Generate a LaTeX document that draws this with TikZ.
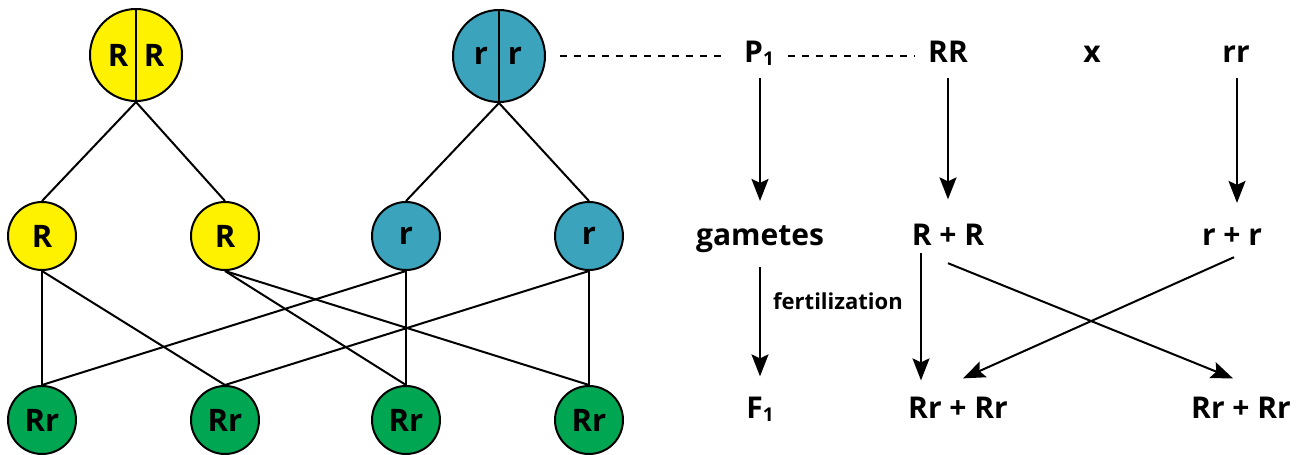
\documentclass[tikz,border=0pt]{standalone}
\usepackage{fontspec}
\setmainfont{Open Sans}
\usetikzlibrary{arrows.meta,calc}
\definecolor{cy}{HTML}{FFF200}
\definecolor{cb}{HTML}{3BA3BC}
\definecolor{cg}{HTML}{00A651}
\begin{document}
\begin{tikzpicture}[x=1pt,y=-1pt,
 gene/.style={circle, draw=black, line width=2pt, minimum size=68pt, inner sep=0pt, font=\fontsize{31}{31}\selectfont\bfseries},
 bigc/.style={circle, draw=black, line width=2pt, minimum size=92pt, inner sep=0pt},
 letter/.style={inner sep=0pt, font=\fontsize{31}{31}\selectfont\bfseries},
 lab/.style={anchor=base, inner sep=0pt, font=\fontsize{30}{30}\selectfont\bfseries},
 small/.style={anchor=base, inner sep=0pt, font=\fontsize{22}{22}\selectfont\bfseries},
 link/.style={line width=2pt},
 dashline/.style={line width=2.2pt, dash pattern=on 7pt off 7pt},
 arr/.style={line width=2pt, -{Stealth[length=22pt,width=17pt,inset=4pt]}}]
\useasboundingbox (0,0) rectangle (1301,455);
% parents
\node[bigc, fill=cy] (RR) at (136,55) {};
\draw[link] (RR.north) -- (RR.south);
\node[letter] (RRa) at (118,55) {R};
\node[letter] (RRb) at (154,55) {R};
\node[bigc, fill=cb] (rr) at (499,56) {};
\draw[link] (rr.north) -- (rr.south);
\node[letter] (rra) at (481,56) {r};
\node[letter] (rrb) at (515,56) {r};
% gametes
\node[gene, fill=cy] (R1) at (42,236) {R};
\node[gene, fill=cy] (R2) at (225,236) {R};
\node[gene, fill=cb] (r1) at (406,236) {r};
\node[gene, fill=cb] (r2) at (589,236) {r};
% offspring
\node[gene, fill=cg] (Rr1) at (42,420) {Rr};
\node[gene, fill=cg] (Rr2) at (225,420) {Rr};
\node[gene, fill=cg] (Rr3) at (406,420) {Rr};
\node[gene, fill=cg] (Rr4) at (589,420) {Rr};
% links
\draw[link] (RR.south) -- (R1.north);
\draw[link] (RR.south) -- (R2.north);
\draw[link] (rr.south) -- (r1.north);
\draw[link] (rr.south) -- (r2.north);
\draw[link] (R1.south) -- (Rr1.north);
\draw[link] (R1.south) -- (Rr2.north);
\draw[link] (R2.south) -- (Rr3.north);
\draw[link] (R2.south) -- (Rr4.north);
\draw[link] (r1.south) -- (Rr1.north);
\draw[link] (r1.south) -- (Rr3.north);
\draw[link] (r2.south) -- (Rr2.north);
\draw[link] (r2.south) -- (Rr4.north);
% right side
\node[lab] (P1) at (759,62) {P\raisebox{-3pt}{\fontsize{19}{19}\selectfont 1}};
\node[lab] (RRt) at (948,62) {RR};
\node[lab] (xx) at (1092,62) {x};
\node[lab] (rrt) at (1236,62) {rr};
\node[lab] (gam) at (760,245) {gametes};
\node[lab] (RpR) at (948,245) {R + R};
\node[lab] (rpr) at (1232,245) {r + r};
\node[small] (fert) at (838,309) {fertilization};
\node[lab] (F1) at (760,418) {F\raisebox{-3pt}{\fontsize{19}{19}\selectfont 1}};
\node[lab] (Rs1) at (958,418) {Rr + Rr};
\node[lab] (Rs2) at (1241,418) {Rr + Rr};
% dashed
\draw[dashline] ($(rr.east)+(14,0)$) -- ($(rr.east -| P1.west)+(-16,0)$);
\draw[dashline] ($(rr.east -| P1.east)+(14,0)$) -- ($(rr.east -| RRt.west)+(-13,0)$);
% arrows
\draw[arr] ($(gam.north |- P1.south)+(0,13)$) -- ($(gam.north)+(0,-24)$);
\draw[arr] ($(RRt.south)+(0,16)$) -- ($(RpR.north)+(0,-24)$);
\draw[arr] ($(rrt.south)+(1,16)$) -- ($(rrt.south |- rpr.north)+(1,-24)$);
\draw[arr] ($(gam.south)+(0,15)$) -- ($(F1.north)+(0,-20)$);
\draw[arr] ($(RpR.south -| 921,0)+(0,8)$) -- ($(Rs1.north -| 921,0)+(0,-16)$);
\draw[arr] ($(RpR.south)+(0,18)$) -- ($(Rs2.north)+(-8,-18)$);
\draw[arr] ($(rpr.south)+(2,12)$) -- ($(Rs1.north)+(5,-18)$);
\end{tikzpicture}
\end{document}
